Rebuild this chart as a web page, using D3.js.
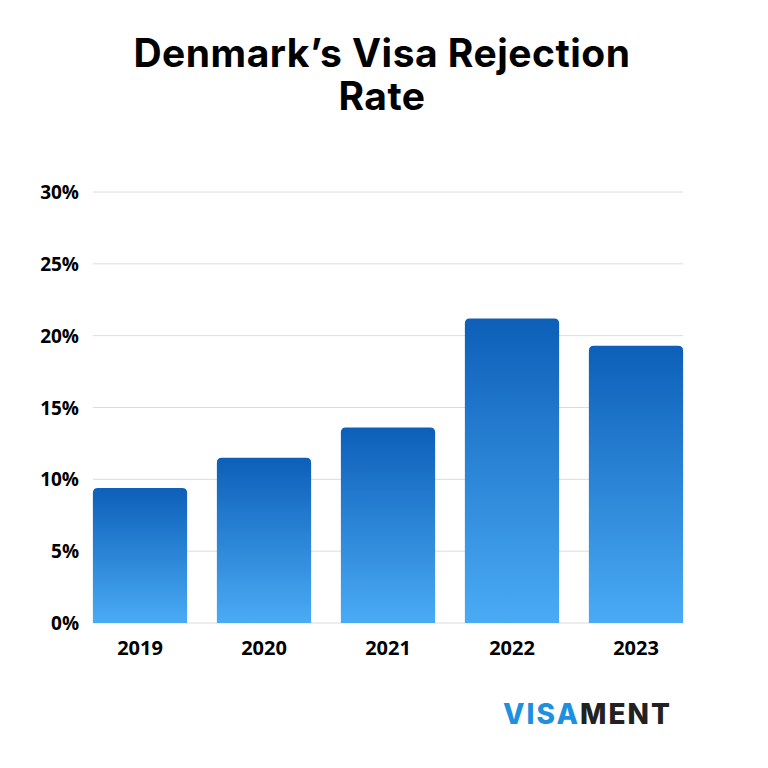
<!DOCTYPE html>
<html><head><meta charset="utf-8">
<script src="https://d3js.org/d3.v7.min.js"></script>
<style>body{margin:0;background:#fff}</style></head>
<body><svg id="c" width="768" height="768"></svg>
<script>
const years = ["2019","2020","2021","2022","2023"];
const rates = [9.4, 11.5, 13.6, 21.2, 19.3];
const ticks = [0,5,10,15,20,25,30];

const svg = d3.select("#c");
const x = d3.scaleBand().domain(years).range([78,698]).paddingInner(0.24).paddingOuter(0.12);
const y = d3.scaleLinear().domain([0,30]).range([623,192]);

const defs = svg.append("defs");
const g = defs.append("linearGradient").attr("id","bg").attr("x1",0).attr("y1",0).attr("x2",0).attr("y2",1);
g.append("stop").attr("offset","0%").attr("stop-color","#0d5fb8");
g.append("stop").attr("offset","100%").attr("stop-color","#4aabf5");

["Denmark’s Visa Rejection","Rate"].forEach((t,i)=>
svg.append("text").attr("x",382).attr("y",67+i*43).attr("text-anchor","middle")
  .style("font-family","Inter, sans-serif").style("font-weight",700).style("font-size","39px")
  .style("letter-spacing","0.5px").text(t));

svg.selectAll(".grid").data(ticks).enter().append("line")
  .attr("x1",93).attr("x2",683).attr("y1",d=>y(d)).attr("y2",d=>y(d))
  .attr("stroke","#dcdcdc").attr("stroke-width",1);

svg.selectAll(".yl").data(ticks).enter().append("text")
  .attr("x",79).attr("y",d=>y(d)+7).attr("text-anchor","end")
  .style("font-family","'Open Sans', sans-serif").style("font-weight",700).style("font-size","19px")
  .text(d=>d+"%");

const r = 5;
svg.selectAll(".bar").data(years).enter().append("path")
  .attr("fill","url(#bg)")
  .attr("d",(d,i)=>{
    const x0=x(d), w=x.bandwidth(), y0=y(rates[i]), yb=y(0);
    return `M${x0},${yb}V${y0+r}Q${x0},${y0} ${x0+r},${y0}H${x0+w-r}Q${x0+w},${y0} ${x0+w},${y0+r}V${yb}Z`;
  });

svg.selectAll(".xl").data(years).enter().append("text")
  .attr("x",d=>x(d)+x.bandwidth()/2).attr("y",655).attr("text-anchor","middle")
  .style("font-family","'Open Sans', sans-serif").style("font-weight",700).style("font-size","20px")
  .text(d=>d);

const logo = svg.append("text").attr("x",503).attr("y",724)
  .style("font-family","Inter, sans-serif").style("font-weight",800).style("font-size","28px").style("letter-spacing","2px");
logo.append("tspan").attr("fill","#1f8fe0").text("VISA");
logo.append("tspan").attr("fill","#222").text("MENT");
</script></body></html>
